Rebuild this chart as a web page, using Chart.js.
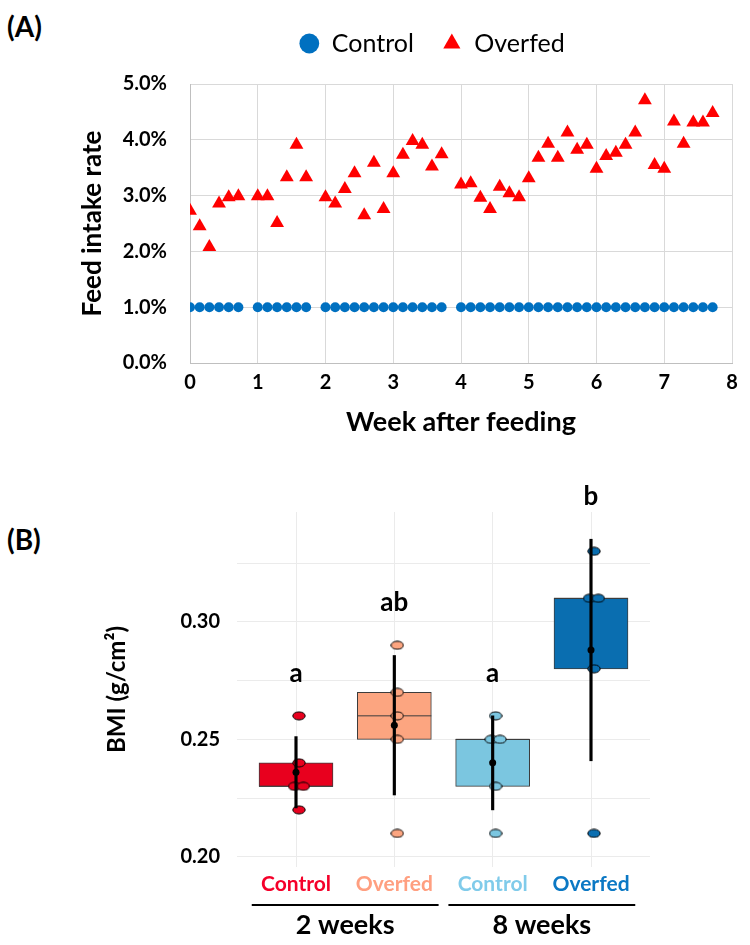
<!DOCTYPE html>
<html>
<head>
<meta charset="utf-8">
<script src="https://cdn.jsdelivr.net/npm/chart.js@4.4.0/dist/chart.umd.min.js"></script>
<style>
    html, body { margin: 0; padding: 0; background: #fff; }
    #wrap { position: relative; width: 750px; height: 945px; }
    .tag { position: absolute; left: 7px; font: bold 28px Lato, sans-serif; line-height: 1; color: #000; }
    #feedChart { position: absolute; left: 0; top: 0; }
    #bmiChart { position: absolute; left: 0; top: 450px; }
</style>
</head>
<body>
<div id="wrap">
    <div class="tag" style="top:12px">(A)</div>
    <div class="tag" style="top:525px">(B)</div>
    <canvas id="feedChart" width="750" height="450"></canvas>
    <canvas id="bmiChart" width="750" height="495"></canvas>
</div>
<script>
/* DATA (A) */

const feedDays = [0, 1, 2, 3, 4, 5,
    7, 8, 9, 10, 11, 12,
    14, 15, 16, 17, 18, 19, 20, 21, 22, 23, 24, 25, 26,
    28, 29, 30, 31, 32, 33, 34, 35, 36, 37, 38, 39, 40, 41, 42, 43, 44, 45, 46, 47, 48, 49, 50, 51, 52, 53, 54];

const controlRate = [1.0, 1.0, 1.0, 1.0, 1.0, 1.0,
    1.0, 1.0, 1.0, 1.0, 1.0, 1.0,
    1.0, 1.0, 1.0, 1.0, 1.0, 1.0, 1.0, 1.0, 1.0, 1.0, 1.0, 1.0, 1.0,
    1.0, 1.0, 1.0, 1.0, 1.0, 1.0, 1.0, 1.0, 1.0, 1.0, 1.0, 1.0, 1.0, 1.0, 1.0, 1.0, 1.0, 1.0, 1.0, 1.0, 1.0, 1.0, 1.0, 1.0, 1.0, 1.0, 1.0];

const overfedRate = [2.73, 2.45, 2.08, 2.86, 2.97, 2.99,
    2.99, 2.99, 2.51, 3.33, 3.91, 3.33,
    2.97, 2.86, 3.12, 3.40, 2.65, 3.59, 2.76, 3.40, 3.73, 3.98, 3.91, 3.52, 3.74,
    3.20, 3.22, 2.96, 2.76, 3.16, 3.04, 2.97, 3.31, 3.68, 3.93, 3.68, 4.13, 3.82, 3.91, 3.48, 3.71, 3.77, 3.91, 4.13, 4.71, 3.55, 3.48, 4.33, 3.93, 4.31, 4.31, 4.48];

const weekTicks = [0, 1, 2, 3, 4, 5, 6, 7, 8];
const rateTicks = [0, 1, 2, 3, 4, 5];

/* DATA (B) */

const bmiGroups = ["Control", "Overfed", "Control", "Overfed"];
const bmiPeriods = ["2 weeks", "8 weeks"];
const bmiControl2 = [0.26, 0.24, 0.23, 0.23, 0.22];
const bmiOverfed2 = [0.29, 0.27, 0.26, 0.25, 0.21];
const bmiControl8 = [0.26, 0.25, 0.25, 0.23, 0.21];
const bmiOverfed8 = [0.33, 0.31, 0.31, 0.28, 0.21];
const sigLetters = ["a", "ab", "a", "b"];
const bmiTicks = [0.20, 0.225, 0.25, 0.275, 0.30, 0.325];
const bmiLabelTicks = [0.20, 0.25, 0.30];

const bmiFill = ["#E8001E", "#FCA580", "#7BC6E0", "#0A6EB0"];
const bmiText = ["#F5002A", "#FF9F80", "#80CBEA", "#0B78C4"];

Chart.defaults.font.family = "Lato, 'DejaVu Sans', sans-serif";
Chart.defaults.color = "#000";
Chart.defaults.animation = false;
Chart.defaults.plugins.tooltip.enabled = false;

/* (A) Feed intake scatter */

// move the legend box off the canvas centre
const legendShift = {
    id: "legendShift",
    afterLayout(chart) {
        const lg = chart.legend;
        lg.left += 66; lg.right += 66;
        lg.top -= 18; lg.bottom -= 18;
    }
};

new Chart(document.getElementById("feedChart"), {
    type: "scatter",
    data: {
        datasets: [{
            label: "Control",
            data: feedDays.map((d, i) => ({x: d / 7, y: controlRate[i]})),
            pointStyle: "circle", radius: 5, backgroundColor: "#0070C0", borderWidth: 0
        }, {
            label: "Overfed",
            data: feedDays.map((d, i) => ({x: d / 7, y: overfedRate[i]})),
            pointStyle: "triangle", radius: 8, backgroundColor: "#FF0000", borderWidth: 0
        }]
    },
    options: {
        responsive: false,
        layout: {padding: {top: 21, right: 18, left: 0, bottom: 0}},
        plugins: {
            legend: {
                labels: {
                    usePointStyle: true, boxWidth: 20, boxHeight: 14, padding: 28,
                    color: "#000", font: {size: 25}
                }
            }
        },
        scales: {
            x: {
                type: "linear", min: 0, max: 8,
                afterBuildTicks: a => { a.ticks = weekTicks.map(v => ({value: v})); },
                afterFit: s => { s.height = 87; },
                grid: {color: "#d9d9d9", drawTicks: false},
                border: {color: "#bfbfbf"},
                ticks: {padding: 8, font: {size: 20, weight: "bold"}},
                title: {display: true, text: "Week after feeding", font: {size: 27, weight: "bold"}, padding: {top: 0, bottom: 12}}
            },
            y: {
                min: 0, max: 5,
                afterBuildTicks: a => { a.ticks = rateTicks.map(v => ({value: v})); },
                afterFit: s => { s.width = 190; },
                grid: {color: "#d9d9d9", drawTicks: false},
                border: {color: "#bfbfbf"},
                ticks: {padding: 23, font: {size: 20, weight: "bold"}, callback: v => v.toFixed(1) + "%"},
                title: {display: true, text: "Feed intake rate", font: {size: 26, weight: "bold"}, padding: {top: 77, bottom: 0}}
            }
        }
    },
    plugins: [legendShift]
});

/* (B) BMI box plot */

const bmiValues = [bmiControl2, bmiOverfed2, bmiControl8, bmiOverfed8];

function quantile(sorted, p) {
    const h = (sorted.length - 1) * p, lo = Math.floor(h);
    const hi = Math.min(lo + 1, sorted.length - 1);
    return sorted[lo] + (h - lo) * (sorted[hi] - sorted[lo]);
}

const bmiStats = bmiValues.map(vals => {
    const s = [...vals].sort((a, b) => a - b);
    const mean = vals.reduce((a, b) => a + b, 0) / vals.length;
    const sd = Math.sqrt(vals.reduce((a, v) => a + (v - mean) ** 2, 0) / (vals.length - 1));
    return {q1: quantile(s, 0.25), med: quantile(s, 0.5), q3: quantile(s, 0.75), mean, sd};
});

// small side shift so repeated values do not sit on top of each other
const bmiPoints = bmiValues.map((vals, i) => vals.map((v, j) => {
    const dup = vals.filter(w => w === v).length > 1;
    const shift = dup ? (vals.indexOf(v) === j ? -0.045 : 0.045) : 0;
    return {x: i + 1 + 0.03 + shift, y: v};
}));

function ellipseMarker(color) {
    const c = document.createElement("canvas");
    c.width = 14; c.height = 10;
    const g = c.getContext("2d");
    g.beginPath();
    g.ellipse(7, 5, 6.2, 4, 0, 0, Math.PI * 2);
    g.fillStyle = color; g.fill();
    g.lineWidth = 1; g.strokeStyle = "#000"; g.stroke();
    return c;
}

const bmiNotes = {
    id: "bmiNotes",
    afterDraw(chart) {
        const {ctx, chartArea} = chart;
        const x = chart.scales.x, y = chart.scales.y;
        ctx.save();
        ctx.fillStyle = "#000";
        ctx.textAlign = "center";
        ctx.textBaseline = "middle";
        ctx.font = "bold 26px Lato, sans-serif";
        bmiValues.forEach((vals, i) => {
            const top = Math.max(Math.max(...vals), bmiStats[i].mean + bmiStats[i].sd);
            ctx.fillText(sigLetters[i], x.getPixelForValue(i + 1), y.getPixelForValue(top + 0.018));
        });
        ctx.font = "bold 27px Lato, sans-serif";
        bmiPeriods.forEach((p, k) => {
            const a = x.getPixelForValue(2 * k + 0.55), b = x.getPixelForValue(2 * k + 2.45);
            ctx.fillRect(a, chartArea.bottom + 37, b - a, 2);
            ctx.fillText(p, (a + b) / 2, chartArea.bottom + 58);
        });
        ctx.restore();
    }
};

new Chart(document.getElementById("bmiChart"), {
    type: "bar",
    data: {
        datasets: [{
            type: "bar",
            data: bmiStats.map((s, i) => ({x: i + 1, y: [s.q1, s.q3]})),
            backgroundColor: bmiFill, borderColor: "#3c3c3c", borderWidth: 1,
            borderSkipped: false, barThickness: 74, grouped: false, order: 5
        }, {
            type: "scatter",
            data: bmiStats.map((s, i) => ({x: i + 1, y: s.med})),
            pointStyle: "line", radius: 37, borderColor: "#3c3c3c", borderWidth: 1, order: 4
        },
        ...bmiPoints.map((pts, i) => ({
            type: "scatter",
            data: pts,
            pointStyle: ellipseMarker(bmiFill[i]), order: 3
        })), {
            type: "bar",
            data: bmiStats.map((s, i) => ({x: i + 1, y: [s.mean - s.sd, s.mean + s.sd]})),
            backgroundColor: "#000", barThickness: 2.5, grouped: false, order: 2
        }, {
            type: "scatter",
            data: bmiStats.map((s, i) => ({x: i + 1, y: s.mean})),
            pointStyle: "circle", radius: 3.5, backgroundColor: "#000", borderWidth: 0, order: 1
        }]
    },
    options: {
        responsive: false,
        layout: {padding: {top: 62, right: 100, left: 0, bottom: 0}},
        plugins: {legend: {display: false}},
        scales: {
            x: {
                type: "linear", min: 0.4, max: 4.6, offset: false,
                afterBuildTicks: a => { a.ticks = bmiGroups.map((g, i) => ({value: i + 1})); },
                afterFit: s => { s.height = 78; },
                grid: {color: "#ebebeb", drawTicks: false, offset: false},
                border: {display: false},
                ticks: {
                    padding: 5, font: {size: 21, weight: "bold"},
                    color: c => bmiText[c.index],
                    callback: (v, i) => bmiGroups[i]
                }
            },
            y: {
                min: 0.1957, max: 0.3467,
                afterBuildTicks: a => { a.ticks = bmiTicks.map(v => ({value: v})); },
                afterFit: s => { s.width = 237; },
                grid: {color: "#ebebeb", drawTicks: false},
                border: {display: false},
                ticks: {
                    padding: 17, font: {size: 20, weight: "bold"},
                    callback: v => bmiLabelTicks.includes(v) ? v.toFixed(2) : ""
                },
                title: {display: true, text: "BMI (g/cm²)", font: {size: 24, weight: "bold"}, padding: {top: 103, bottom: 0}}
            }
        }
    },
    plugins: [bmiNotes]
});
</script>
</body>
</html>
